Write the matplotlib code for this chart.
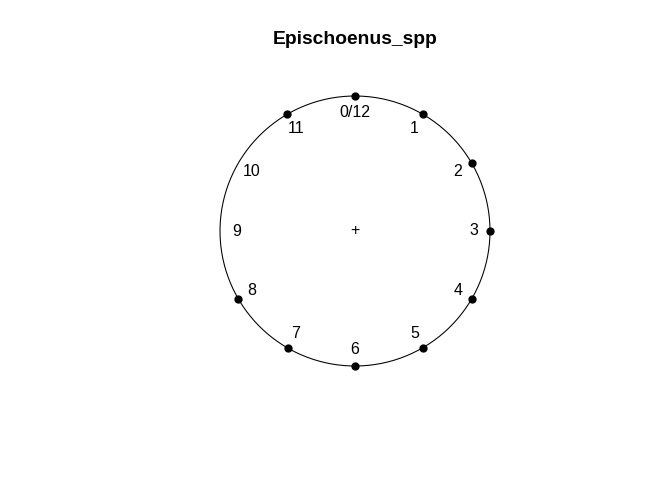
import numpy as np
import matplotlib
matplotlib.use("Agg")
import matplotlib.pyplot as plt

plt.rcParams['font.family'] = ['Liberation Sans', 'DejaVu Sans']

title = "Epischoenus_spp"
hour_labels = ["0/12", "1", "2", "3", "4", "5", "6", "7", "8", "9", "10", "11"]
obs_months = [0, 1, 2, 3, 4, 5, 6, 7, 8, 11]

fig = plt.figure(figsize=(7, 5), dpi=96)
# circle radius 135 px, centred at (355, 231) px from top-left
ax = fig.add_axes([193 / 672, 87 / 480, 324 / 672, 324 / 480])
ax.set_xlim(-1.2, 1.2)
ax.set_ylim(-1.2, 1.2)
ax.set_aspect('equal')
ax.axis('off')

t = np.linspace(0, 2 * np.pi, 400)
ax.plot(np.cos(t), np.sin(t), color='black', lw=0.8)

# labels inside the circle, clockwise from the top
for i, lab in enumerate(hour_labels):
    a = np.deg2rad(90 - 30 * i)
    ax.text(0.88 * np.cos(a), 0.88 * np.sin(a), lab, ha='center', va='center',
            fontsize=12)

ang = np.deg2rad(90 - 30 * np.array(obs_months))
ax.plot(np.cos(ang), np.sin(ang), 'o', color='black', ms=5.2, clip_on=False)

ax.text(0, 0, "+", ha='center', va='center', fontsize=12)

fig.text(355 / 672, 1 - 40 / 480, title, ha='center', va='center',
         fontsize=14.4, fontweight='bold')

fig.savefig("out.png", dpi=96)
